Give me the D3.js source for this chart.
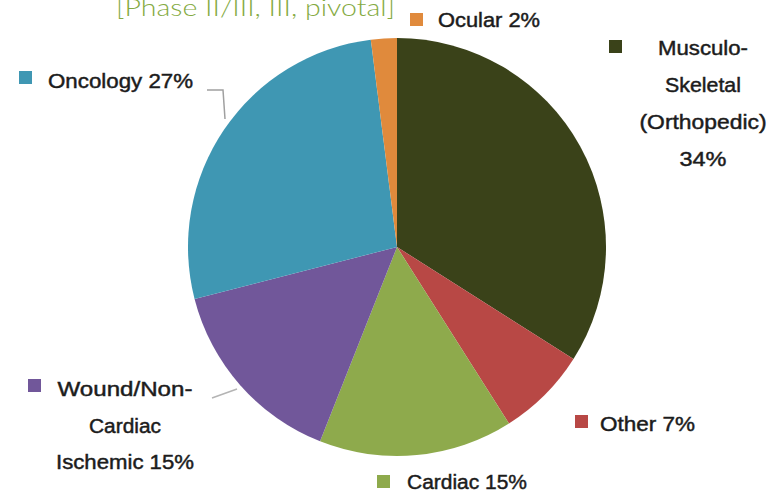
<!DOCTYPE html>
<html>
<head>
<meta charset="utf-8">
<script src="https://cdn.jsdelivr.net/npm/d3@7"></script>
<style>
  html, body { margin: 0; padding: 0; background: #fff; }
  svg { display: block; }
</style>
</head>
<body>
<svg id="chart" width="778" height="492"></svg>
<script>
// Indication share of trials (clockwise from 12 o'clock)
const categories = ["Musculo-Skeletal (Orthopedic)", "Other", "Cardiac", "Wound/Non-Cardiac Ischemic", "Oncology", "Ocular"];
const shares = [34, 7, 15, 15, 27, 2];
const palette = ["#3a4219", "#b84845", "#8eaa4c", "#71579a", "#3f97b3", "#e08a3c"];
const titleText = "[Phase II/III, III, pivotal]";

const svg = d3.select("#chart");
const cx = 397, cy = 247, R = 209;

const data = categories.map((c, i) => ({ name: c, value: shares[i], color: palette[i] }));

const pie = d3.pie().sort(null).value(d => d.value);
const arc = d3.arc().innerRadius(0).outerRadius(R);

const g = svg.append("g").attr("transform", `translate(${cx},${cy})`);
g.selectAll("path.slice")
  .data(pie(data))
  .join("path")
  .attr("class", "slice")
  .attr("d", arc)
  .attr("fill", d => d.data.color);

// Title (its top runs off the upper edge)
svg.append("text")
  .attr("x", 116)
  .attr("y", 16)
  .attr("font-family", "Lato, 'Open Sans', sans-serif")
  .attr("font-weight", 300)
  .attr("font-size", 23)
  .attr("fill", "#84aa42")
  .attr("textLength", 279)
  .attr("lengthAdjust", "spacingAndGlyphs")
  .text(titleText);

// Label layout per category: marker square, text lines (x, baselines, widths)
const labelLayout = {
  "Musculo-Skeletal (Orthopedic)": {
    sq: [609, 40], anchor: "middle", x: 703, ys: [55, 92, 129, 166], ws: [90, 76, 127, 47],
    lines: d => ["Musculo-", "Skeletal", "(Orthopedic)", d.value + "%"]
  },
  "Other": {
    sq: [575, 415], anchor: "start", x: 600, ys: [431], ws: [95],
    lines: d => ["Other " + d.value + "%"]
  },
  "Cardiac": {
    sq: [377, 475], anchor: "start", x: 407, ys: [489], ws: [120],
    lines: d => ["Cardiac " + d.value + "%"]
  },
  "Wound/Non-Cardiac Ischemic": {
    sq: [28, 379], anchor: "middle", x: 125, ys: [396, 433, 469], ws: [135, 72, 138],
    lines: d => ["Wound/Non-", "Cardiac", "Ischemic " + d.value + "%"]
  },
  "Oncology": {
    sq: [19, 71], anchor: "start", x: 48, ys: [88], ws: [145],
    lines: d => ["Oncology " + d.value + "%"]
  },
  "Ocular": {
    sq: [410, 13], anchor: "start", x: 438, ys: [27], ws: [102],
    lines: d => ["Ocular " + d.value + "%"]
  }
};

const labels = svg.append("g").attr("class", "labels");
data.forEach(d => {
  const L = labelLayout[d.name];
  labels.append("rect")
    .attr("x", L.sq[0]).attr("y", L.sq[1])
    .attr("width", 13).attr("height", 13)
    .attr("fill", d.color);
  L.lines(d).forEach((t, i) => {
    labels.append("text")
      .attr("x", L.x)
      .attr("y", L.ys[i])
      .attr("text-anchor", L.anchor)
      .attr("font-family", "'Liberation Sans Narrow', 'Liberation Sans', Arial, sans-serif")
      .attr("font-size", 20)
      .attr("fill", "#1c1c1c")
      .attr("stroke", "#1c1c1c")
      .attr("stroke-width", 0.45)
      .attr("textLength", L.ws[i])
      .attr("lengthAdjust", "spacingAndGlyphs")
      .text(t);
  });
});

// Leader lines for the two labels set away from their slices
const leader = d3.line();
svg.append("path")
  .attr("d", leader([[207, 90], [223, 90], [225, 119]]))
  .attr("fill", "none").attr("stroke", "#a0a0a0").attr("stroke-width", 1.5);
svg.append("path")
  .attr("d", leader([[212, 398], [237, 389]]))
  .attr("fill", "none").attr("stroke", "#b4b4b4").attr("stroke-width", 1.5);
</script>
</body>
</html>
